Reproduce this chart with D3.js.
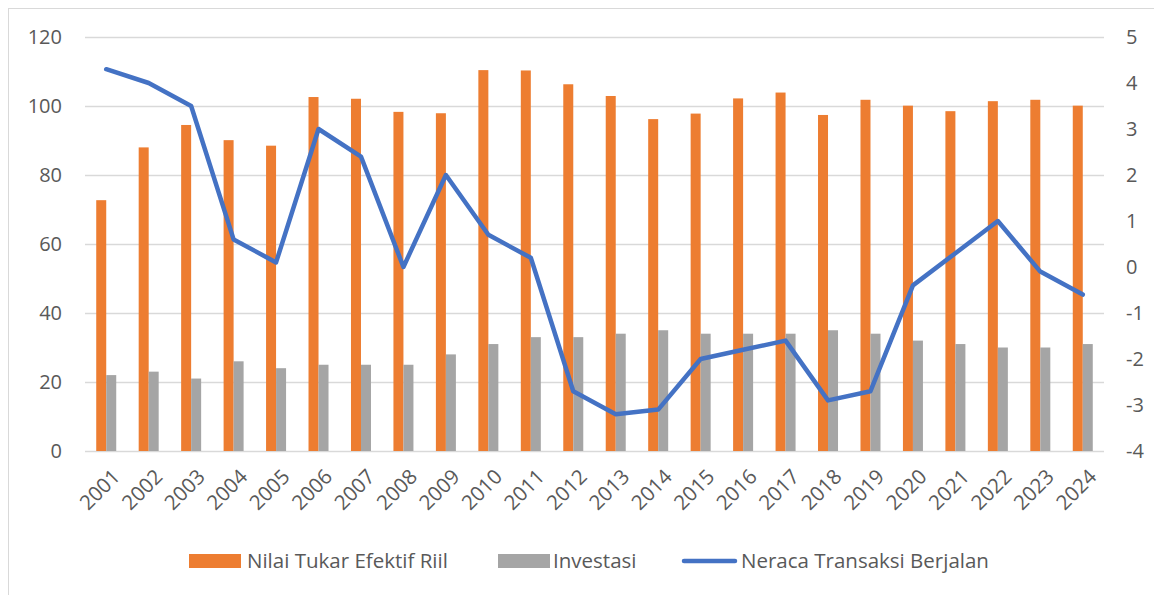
<!DOCTYPE html>
<html>
<head>
<meta charset="utf-8">
<script src="https://cdn.jsdelivr.net/npm/d3@7"></script>
<style>
  body { margin: 0; background: #fff; }
  text { font-family: "Open Sans", "Liberation Sans", sans-serif; fill: #595959; }
</style>
</head>
<body>
<svg id="canvas"></svg>
<script>
const years = ["2001", "2002", "2003", "2004", "2005", "2006", "2007", "2008",
  "2009", "2010", "2011", "2012", "2013", "2014", "2015", "2016", "2017",
  "2018", "2019", "2020", "2021", "2022", "2023", "2024"];

const nilaiTukar = [72.7, 88.0, 94.5, 90.1, 88.5, 102.6, 102.1, 98.3, 97.9,
  110.4, 110.3, 106.3, 102.9, 96.2, 97.8, 102.2, 103.9, 97.4, 101.8, 100.1,
  98.5, 101.4, 101.8, 100.1];

const investasi = [22, 23, 21, 26, 24, 25, 25, 25, 28, 31, 33, 33, 34, 35,
  34, 34, 34, 35, 34, 32, 31, 30, 30, 31];

const neraca = [4.3, 4.0, 3.5, 0.6, 0.1, 3.0, 2.4, 0.0, 2.0, 0.7, 0.2, -2.7,
  -3.2, -3.1, -2.0, -1.8, -1.6, -2.9, -2.7, -0.4, 0.3, 1.0, -0.1, -0.6];

const leftTicks = [0, 20, 40, 60, 80, 100, 120];
const rightTicks = [-4, -3, -2, -1, 0, 1, 2, 3, 4, 5];

const seriesNames = ["Nilai Tukar Efektif Riil", "Investasi", "Neraca Transaksi Berjalan"];
const colors = { orange: "#ED7D31", gray: "#A5A5A5", blue: "#4472C4" };

function getChartConfig() {
  let canvasWidth = 1154,
    canvasHeight = 595;
  let margin = { top: 37, right: 50, bottom: 144, left: 85 };
  let width = 1104 - margin.left;
  let height = 451 - margin.top;

  let svg = d3.select("#canvas");
  svg.attr("width", canvasWidth);
  svg.attr("height", canvasHeight);

  return { canvasWidth, canvasHeight, margin, width, height, svg };
}

function getChartScales(config) {
  let { width, height } = config;

  let xScale = d3.scaleBand().domain(years).range([0, width]);
  let yLeft = d3.scaleLinear().domain([0, 120]).range([height, 0]);
  let yRight = d3.scaleLinear().domain([-4, 5]).range([height, 0]);

  return { xScale, yLeft, yRight };
}

function drawFrame(config) {
  let { svg } = config;
  svg
    .append("rect")
    .attr("x", 8.5)
    .attr("y", 8.5)
    .attr("width", 1200)
    .attr("height", 650)
    .attr("fill", "none")
    .attr("stroke", "#d9d9d9")
    .attr("stroke-width", 1);
}

function drawAxes(scales, config) {
  let { xScale, yLeft, yRight } = scales;
  let { svg, margin, width, height } = config;

  let axisGrid = d3.axisLeft(yLeft).tickValues(leftTicks).tickFormat("").tickSize(-width);
  let grid = svg
    .append("g")
    .attr("transform", `translate(${margin.left},${margin.top})`)
    .call(axisGrid);
  grid.select(".domain").remove();
  grid.selectAll("line").attr("stroke", "#d9d9d9").attr("stroke-width", 1.3);

  let axisY = d3.axisLeft(yLeft).tickValues(leftTicks).tickSize(0).tickPadding(23)
    .tickFormat((d) => String(d));
  let gy = svg
    .append("g")
    .attr("transform", `translate(${margin.left},${margin.top})`)
    .call(axisY);
  gy.select(".domain").remove();
  gy.selectAll("text")
    .style("font-size", "20px")
    .attr("fill", "#595959");

  // hyphen minus like the original, not the unicode minus d3 uses
  let axisY2 = d3.axisRight(yRight).tickValues(rightTicks).tickSize(0).tickPadding(22)
    .tickFormat((d) => String(d));
  let gy2 = svg
    .append("g")
    .attr("transform", `translate(${margin.left + width},${margin.top})`)
    .call(axisY2);
  gy2.select(".domain").remove();
  gy2.selectAll("text")
    .style("font-size", "20px")
    .attr("fill", "#595959");

  let gx = svg
    .append("g")
    .attr("transform", `translate(${margin.left},${margin.top + height})`);
  gx.selectAll("text")
    .data(years)
    .enter()
    .append("text")
    .attr("transform", (d) => `translate(${xScale(d) + xScale.bandwidth() / 2 + 10},${22}) rotate(-45)`)
    .attr("text-anchor", "end")
    .attr("dy", "0.35em")
    .style("font-size", "20.5px")
    .text((d) => d);
}

function drawChart(scales, config) {
  let { xScale, yLeft, yRight } = scales;
  let { svg, margin, height } = config;
  let barW = 10;

  let g = svg.append("g").attr("transform", `translate(${margin.left},${margin.top})`);

  g.selectAll(".bar-nilai")
    .data(nilaiTukar)
    .enter()
    .append("rect")
    .attr("class", "bar-nilai")
    .attr("x", (d, i) => xScale(years[i]) + xScale.bandwidth() / 2 - barW)
    .attr("y", (d) => yLeft(d))
    .attr("width", barW)
    .attr("height", (d) => height - yLeft(d))
    .attr("fill", colors.orange);

  g.selectAll(".bar-inv")
    .data(investasi)
    .enter()
    .append("rect")
    .attr("class", "bar-inv")
    .attr("x", (d, i) => xScale(years[i]) + xScale.bandwidth() / 2)
    .attr("y", (d) => yLeft(d))
    .attr("width", barW)
    .attr("height", (d) => height - yLeft(d))
    .attr("fill", colors.gray);

  const lineGen = d3
    .line()
    .x((d, i) => xScale(years[i]) + xScale.bandwidth() / 2)
    .y((d) => yRight(d));

  g.append("path")
    .datum(neraca)
    .attr("fill", "none")
    .attr("stroke", colors.blue)
    .attr("stroke-width", 4.5)
    .attr("stroke-linejoin", "round")
    .attr("stroke-linecap", "round")
    .attr("d", lineGen);
}

function drawLegend(config) {
  let { svg } = config;
  let ly = 561;

  let legend = svg.append("g").attr("class", "legend");

  legend.append("rect")
    .attr("x", 189).attr("y", ly - 7).attr("width", 52).attr("height", 14)
    .attr("fill", colors.orange);
  legend.append("text")
    .attr("x", 247).attr("y", ly).attr("dy", "0.35em")
    .style("font-size", "20.5px")
    .text(seriesNames[0]);

  legend.append("rect")
    .attr("x", 498).attr("y", ly - 7).attr("width", 52).attr("height", 14)
    .attr("fill", colors.gray);
  legend.append("text")
    .attr("x", 553).attr("y", ly).attr("dy", "0.35em")
    .style("font-size", "20.5px")
    .text(seriesNames[1]);

  legend.append("line")
    .attr("x1", 684).attr("x2", 735).attr("y1", ly).attr("y2", ly)
    .attr("stroke", colors.blue)
    .attr("stroke-width", 4.5)
    .attr("stroke-linecap", "round");
  legend.append("text")
    .attr("x", 741).attr("y", ly).attr("dy", "0.35em")
    .style("font-size", "20.5px")
    .text(seriesNames[2]);
}

function showData() {
  let config = getChartConfig();
  let scales = getChartScales(config);
  drawFrame(config);
  drawAxes(scales, config);
  drawChart(scales, config);
  drawLegend(config);
}

showData();
</script>
</body>
</html>
